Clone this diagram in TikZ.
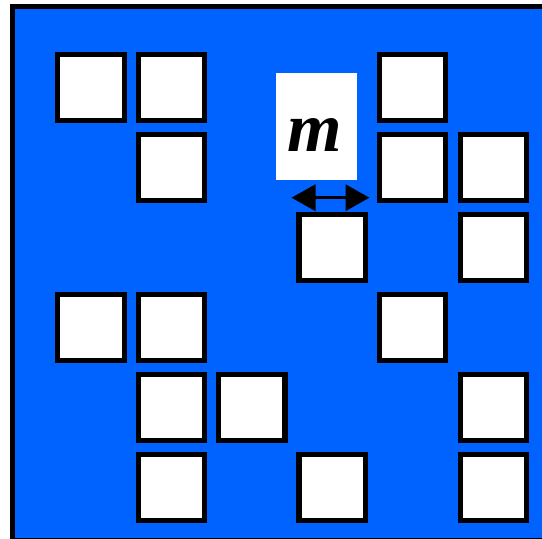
\documentclass[tikz,border=0pt]{standalone}
\usepackage{fontspec}
\newfontfamily\labelfont{Liberation Serif}
\usetikzlibrary{arrows.meta}
\definecolor{fieldblue}{RGB}{0,98,255}
\begin{document}
\begin{tikzpicture}[x=1pt,y=-1pt,
  cell/.style={draw=black,fill=white,line width=5.2pt,minimum size=66.5pt,inner sep=0pt,outer sep=0pt},
  labelbox/.style={fill=white,minimum width=81pt,minimum height=107pt,inner sep=0pt},
  gap/.style={line width=3.5pt,{Triangle[length=24pt,width=26pt]}-{Triangle[length=24pt,width=26pt]}}]
\useasboundingbox (0,0) rectangle (542,539);
\begin{scope}
\clip (0,0) rectangle (542,539);
\draw[line width=5.3pt,fill=fieldblue] (12.3,6.6) rectangle (560,540.5);
\end{scope}
% column and row centres of the grid
\foreach \c/\x in {0/91,1/171.4,2/251.8,3/332.2,4/412.6,5/493.6}{\expandafter\xdef\csname cx\c\endcsname{\x}}
\foreach \r/\y in {0/87.6,1/167.6,2/247.6,3/327.6,4/407.6,5/487.6}{\expandafter\xdef\csname cy\r\endcsname{\y}}
\foreach \r/\c in {0/0,0/1,0/4,1/1,1/4,1/5,2/3,2/5,3/0,3/1,3/4,4/1,4/2,4/5,5/1,5/3,5/5}{
  \node[cell] (s\r\c) at (\csname cx\c\endcsname,\csname cy\r\endcsname) {};
}
\node[labelbox] (lbl) at (316.5,126.5) {};
\node[inner sep=0pt,anchor=base] (mtxt) at (315,151) {\labelfont\bfseries\itshape\fontsize{70}{70}\selectfont m};
\coordinate (gl) at (291.5,197.7);
\coordinate (gr) at (369.5,197.7);
\draw[gap] (gl) -- (gr);
\end{tikzpicture}
\end{document}
